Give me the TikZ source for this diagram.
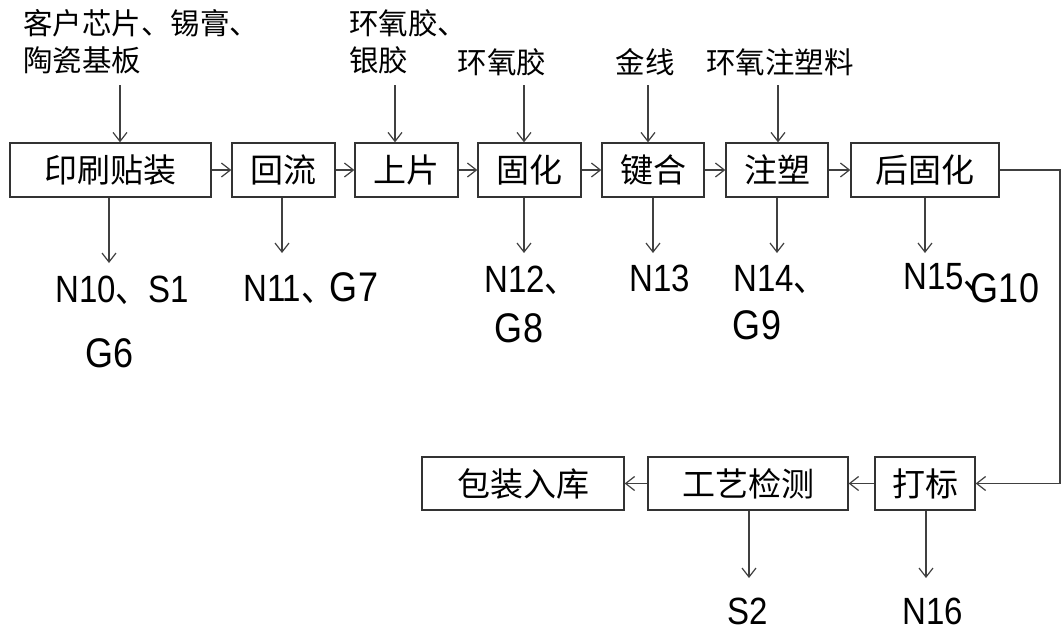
\documentclass[tikz,border=0pt]{standalone}
\usepackage{graphicx}
\usepackage{fontspec}
\setmainfont{Liberation Sans}
\newfontfamily\cjk{Noto Sans CJK SC}
\usetikzlibrary{arrows.meta}
\newcommand\dun{{\cjk 、}}
\newcommand\tallx[1]{\scalebox{1}[1.15]{#1}}
\tikzset{
 box/.style={draw=black!80, line width=1.3pt, minimum height=54pt, inner sep=0pt, font=\cjk\fontsize{33}{38}\selectfont},
 arr/.style={draw=black!75, line width=1.2pt, -{Straight Barb[length=9pt,width=14pt,line width=1.2pt]}},
 ln/.style={draw=black!75, line width=1.2pt},
 inlab/.style={inner sep=0pt, align=left, font=\cjk\fontsize{29.5}{37}\selectfont},
 nlab/.style={inner sep=0pt, font=\fontsize{33}{38}\selectfont},
 glab/.style={inner sep=0pt, font=\fontsize{36}{40}\selectfont},
}
\begin{document}
\begin{tikzpicture}[x=1pt,y=-1pt]
\fill[white] (0,0) rectangle (1062,632);
\useasboundingbox (0,0) rectangle (1062,632);
% top row boxes
\node[box, minimum width=201pt] (b1) at (110.5,170) {印刷贴装};
\node[box, minimum width=103pt] (b2) at (283.5,170) {回流};
\node[box, minimum width=103pt] (b3) at (406.5,170) {上片};
\node[box, minimum width=103pt] (b4) at (529.5,170) {固化};
\node[box, minimum width=102pt] (b5) at (653,170) {键合};
\node[box, minimum width=102pt] (b6) at (777,170) {注塑};
\node[box, minimum width=148pt] (b7) at (925,170) {后固化};
% bottom row boxes
\node[box, minimum width=202pt, minimum height=53pt] (c1) at (523,483.5) {包装入库};
\node[box, minimum width=200pt, minimum height=53pt] (c2) at (748,483.5) {工艺检测};
\node[box, minimum width=100pt, minimum height=53pt] (c3) at (925,483.5) {打标};
% row connectors
\draw[arr] (b1) -- (b2);
\draw[arr] (b2) -- (b3);
\draw[arr] (b3) -- (b4);
\draw[arr] (b4) -- (b5);
\draw[arr] (b5) -- (b6);
\draw[arr] (b6) -- (b7);
\coordinate (r1) at (1060,170);
\coordinate (r2) at (1060,483.5);
\draw[ln] (b7.east) -- (r1) -- (r2);
\draw[arr] (r2) -- (c3.east);
\draw[arr] (c3) -- (c2);
\draw[arr] (c2) -- (c1);
% input labels
\node[inlab, anchor=north west] (i1) at (23,9) {客户芯片、锡膏、\\陶瓷基板};
\node[inlab, anchor=north west] (i3) at (349,9) {环氧胶、\\银胶};
\node[inlab] (i4) at (502,62) {环氧胶};
\node[inlab] (i5) at (645,62) {金线};
\node[inlab] (i6) at (780,62) {环氧注塑料};
\coordinate (a1) at (120,85);
\coordinate (a3) at (395,85);
\coordinate (a4) at (524,85);
\coordinate (a5) at (648,85);
\coordinate (a6) at (778,85);
\draw[arr] (a1) -- (a1 |- b1.north);
\draw[arr] (a3) -- (a3 |- b3.north);
\draw[arr] (a4) -- (a4 |- b4.north);
\draw[arr] (a5) -- (a5 |- b5.north);
\draw[arr] (a6) -- (a6 |- b6.north);
% output arrows
\coordinate (o1) at (109,263);
\coordinate (o2) at (282,253);
\coordinate (o4) at (524,253);
\coordinate (o5) at (653,253);
\coordinate (o6) at (777,253);
\coordinate (o7) at (925,253);
\coordinate (p2) at (749,578);
\coordinate (p3) at (926,578);
\draw[arr] (o1 |- b1.south) -- (o1);
\draw[arr] (o2 |- b2.south) -- (o2);
\draw[arr] (o4 |- b4.south) -- (o4);
\draw[arr] (o5 |- b5.south) -- (o5);
\draw[arr] (o6 |- b6.south) -- (o6);
\draw[arr] (o7 |- b7.south) -- (o7);
\draw[arr] (p2 |- c2.south) -- (p2);
\draw[arr] (p3 |- c3.south) -- (p3);
% output labels
\node[nlab, anchor=west] (n10) at (55,290) {\tallx{N10\dun S1}};
\node[glab] (g6) at (110,353) {\tallx{G6}};
\node[nlab, anchor=west] (n11) at (243,290) {\tallx{N11\dun}};
\node[glab] (g7) at (354,287) {\tallx{G7}};
\node[nlab, anchor=west] (n12) at (484,280) {\tallx{N12\dun}};
\node[glab] (g8) at (519,328) {\tallx{G8}};
\node[nlab] (n13) at (660,278) {\tallx{N13}};
\node[nlab, anchor=west] (n14) at (733,280) {\tallx{N14\dun}};
\node[glab] (g9) at (757,325) {\tallx{G9}};
\node[nlab, anchor=west] (n15) at (903,278) {\tallx{N15\dun}};
\node[glab] (g10) at (1005,288) {\tallx{G10}};
\node[nlab] (s2) at (748,611) {\tallx{S2}};
\node[nlab] (n16) at (933,611) {\tallx{N16}};
\end{tikzpicture}
\end{document}
